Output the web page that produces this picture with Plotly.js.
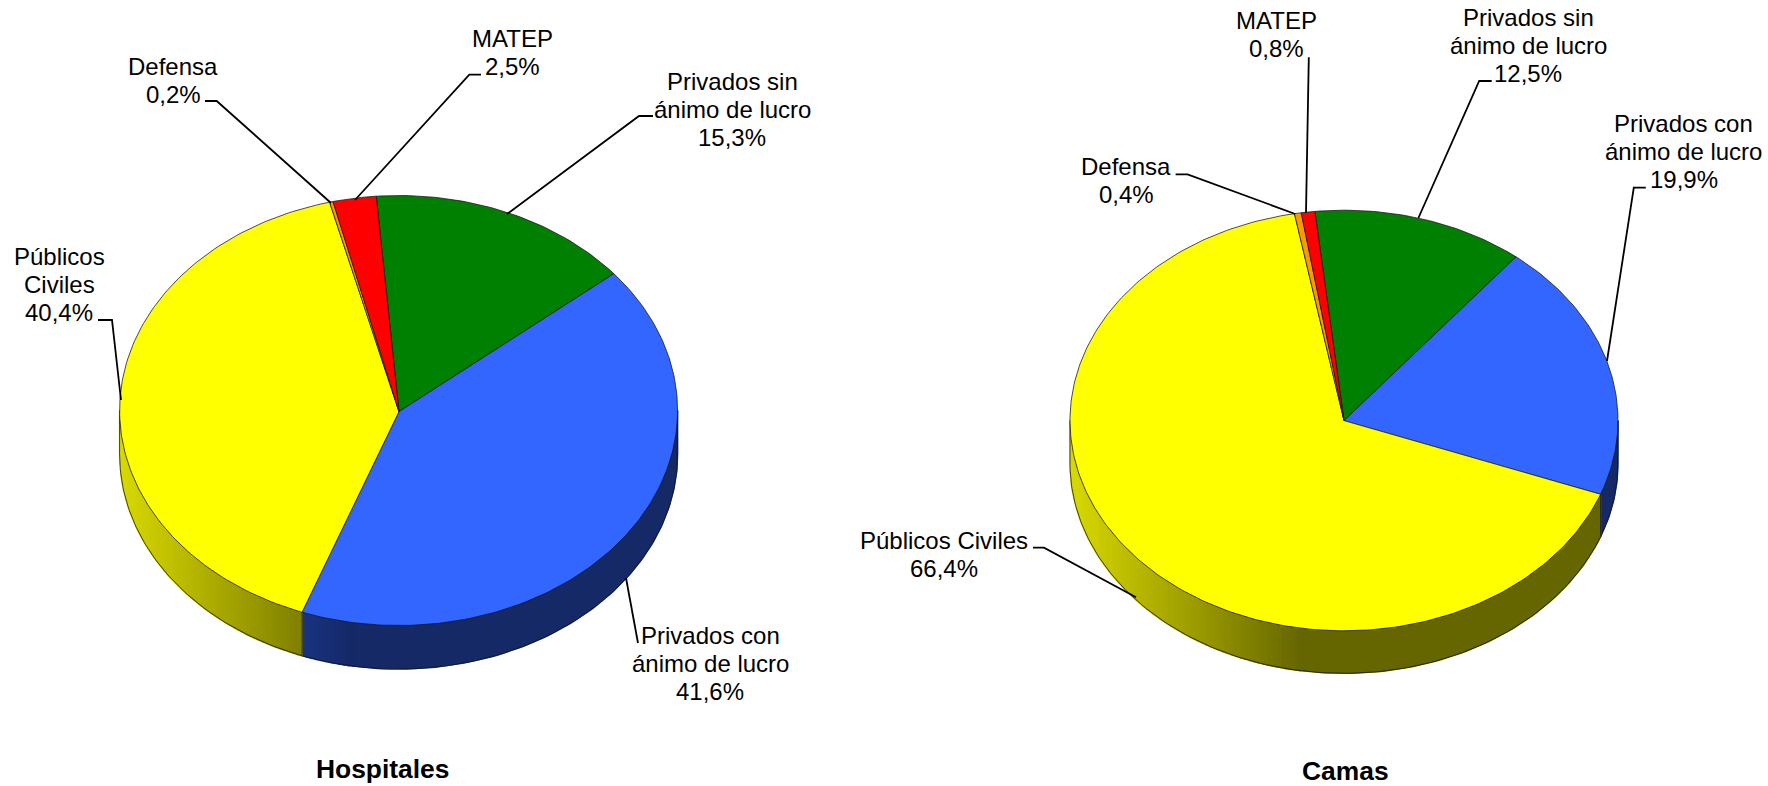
<!DOCTYPE html>
<html>
<head>
<meta charset="utf-8">
<script src="https://cdn.plot.ly/plotly-3.0.1.min.js"></script>
<style>html,body{margin:0;padding:0;background:#fff}#chart{width:1768px;height:786px}</style>
</head>
<body>
<div id="chart"></div>
<script>
// Data (clockwise from the start angle)
const categories = ['Privados sin ánimo de lucro','Privados con ánimo de lucro','Públicos Civiles','Defensa','MATEP'];
const hospitalesValues = [15.3, 41.6, 40.4, 0.2, 2.5];
const camasValues = [12.5, 19.9, 66.4, 0.4, 0.8];
const hospitalesLines = [['Privados sin','ánimo de lucro'],['Privados con','ánimo de lucro'],['Públicos','Civiles'],['Defensa'],['MATEP']];
const camasLines = [['Privados sin','ánimo de lucro'],['Privados con','ánimo de lucro'],['Públicos Civiles'],['Defensa'],['MATEP']];
const sliceColors = [[0,128,0],[51,102,255],[255,255,0],[255,153,0],[255,0,0]];

// Placement of the two tilted pies on a pixel-like axis
const hospitalesPie = {title:'Hospitales', values:hospitalesValues, lines:hospitalesLines,
  cx:398.6, cy:410.5, ax:399, ay:411.6, rx:279, ry:215, depth:43.5, start:-4.6,
  titlePos:[382,769],
  labelPos:[[732,109],[710,663],[59,284],[173,80],[512,52]],
  leaders:[[[653,116],[639,116],[507,214]],
           [[626,578],[638,643]],
           [[98,320],[112,320],[121,400]],
           [[205,101],[216.7,101],[331,203]],
           [[481,74.7],[469.3,74.7],[355,200]]]};
const camasPie = {title:'Camas', values:camasValues, lines:camasLines,
  cx:1344, cy:420.5, ax:1344, ay:420.6, rx:274, ry:210.3, depth:42.5, start:-6.1,
  titlePos:[1345,771],
  labelPos:[[1528,45],[1683.5,151],[944,554],[1126,180],[1276,34]],
  leaders:[[[1491.7,81],[1479.2,81],[1418.4,218]],
           [[1645.8,187.7],[1633.8,187.7],[1607,361]],
           [[1033,547.7],[1044,547.7],[1136,597.3]],
           [[1175.6,174.3],[1187.6,174.3],[1295.3,214]],
           [[1308.8,57.3],[1306,213]]]};

const EDGE = 'rgba(20,20,20,0.75)';
const LINE_STEP = 28;
const FONT = 'Liberation Sans, Arial, sans-serif';
const traces = [], annotations = [];
const rad = d => d*Math.PI/180;
const ptX = (p,d) => p.cx + p.rx*Math.sin(rad(d));
const ptY = (p,d,dz=0) => p.cy - p.ry*Math.cos(rad(d)) + dz;
const range = (a,b,step) => { const out=[]; const n=Math.max(1,Math.ceil((b-a)/step));
  for(let i=0;i<=n;i++) out.push(a+(b-a)*i/n); return out; };
// Side-wall light falls off from the left of the pie to just before its middle
const shade = frac => frac>=0.42 ? 0.4 : 0.85-(0.45*frac/0.42);
const rgb = (c,k) => `rgb(${Math.round(c[0]*k)},${Math.round(c[1]*k)},${Math.round(c[2]*k)})`;

function drawPie(p){
  let a = p.start;
  const spans = p.values.map(v => { const s=[a,a+v*3.6]; a=s[1]; return s; });
  // side walls, only the front half (90° to 270°) is visible
  spans.forEach((s,i) => {
    const from=Math.max(s[0],90), to=Math.min(s[1],270);
    if(to<=from) return;
    const angles=range(from,to,1);
    // join neighbouring steps that share one shade into a single band
    const bands=[];
    for(let j=0;j<angles.length-1;j++){
      const a0=angles[j], a1=angles[j+1];
      const frac=(ptX(p,(a0+a1)/2)-(p.cx-p.rx))/(2*p.rx);
      const col=rgb(sliceColors[i],shade(frac));
      const last=bands[bands.length-1];
      if(last && last.col===col) last.a1=a1; else bands.push({col,a0,a1});
    }
    bands.forEach(b => {
      const arc=range(b.a0,b.a1,1);
      traces.push({type:'scatter',mode:'lines',fill:'toself',fillcolor:b.col,hoverinfo:'skip',
        line:{color:b.col,width:1.5},
        x:[...arc.map(d=>ptX(p,d)),...arc.slice().reverse().map(d=>ptX(p,d)),ptX(p,b.a0)],
        y:[...arc.map(d=>ptY(p,d)),...arc.slice().reverse().map(d=>ptY(p,d,p.depth)),ptY(p,b.a0)]});
    });
    const rim=range(from,to,1);
    traces.push({type:'scatter',mode:'lines',hoverinfo:'skip',line:{color:EDGE,width:1},
      x:[ptX(p,from),...rim.map(d=>ptX(p,d)),ptX(p,to)],
      y:[ptY(p,from),...rim.map(d=>ptY(p,d,p.depth)),ptY(p,to)]});
  });
  // top face
  spans.forEach((s,i) => {
    const arc=range(s[0],s[1],1);
    traces.push({type:'scatter',mode:'lines',fill:'toself',fillcolor:rgb(sliceColors[i],1),
      name:categories[i],hoverinfo:'text',text:`${categories[i]}: ${String(p.values[i]).replace('.',',')}%`,
      line:{color:EDGE,width:1},
      x:[p.ax,...arc.map(d=>ptX(p,d)),p.ax],
      y:[p.ay,...arc.map(d=>ptY(p,d)),p.ay]});
  });
  // leader lines
  p.leaders.forEach(l => traces.push({type:'scatter',mode:'lines',hoverinfo:'skip',
    line:{color:'#000',width:1.8},x:l.map(q=>q[0]),y:l.map(q=>q[1])}));
  // labels, one text per line for the tight line spacing
  p.lines.forEach((t,i) => {
    const rows=[...t,`${p.values[i].toFixed(1).replace('.',',')}%`];
    rows.forEach((row,k) => annotations.push({xref:'x',yref:'y',x:p.labelPos[i][0],
      y:p.labelPos[i][1]+(k-(rows.length-1)/2)*LINE_STEP,
      xanchor:'center',yanchor:'middle',align:'center',showarrow:false,text:row,
      font:{family:FONT,size:24,color:'#000'}}));
  });
  annotations.push({xref:'x',yref:'y',x:p.titlePos[0],y:p.titlePos[1],xanchor:'center',yanchor:'middle',
    showarrow:false,text:`<b>${p.title}</b>`,
    font:{family:FONT,size:26.4,color:'#000'}});
}
drawPie(hospitalesPie);
drawPie(camasPie);

const hiddenAxis = r => ({range:r,visible:false,showgrid:false,zeroline:false,fixedrange:true});
Plotly.newPlot('chart',traces,{
  width:1768,height:786,margin:{l:0,r:0,t:0,b:0},
  paper_bgcolor:'#fff',plot_bgcolor:'#fff',showlegend:false,hovermode:'closest',
  xaxis:hiddenAxis([0,1768]),yaxis:hiddenAxis([786,0]),
  annotations
},{displayModeBar:false,responsive:false});
</script>
</body>
</html>
